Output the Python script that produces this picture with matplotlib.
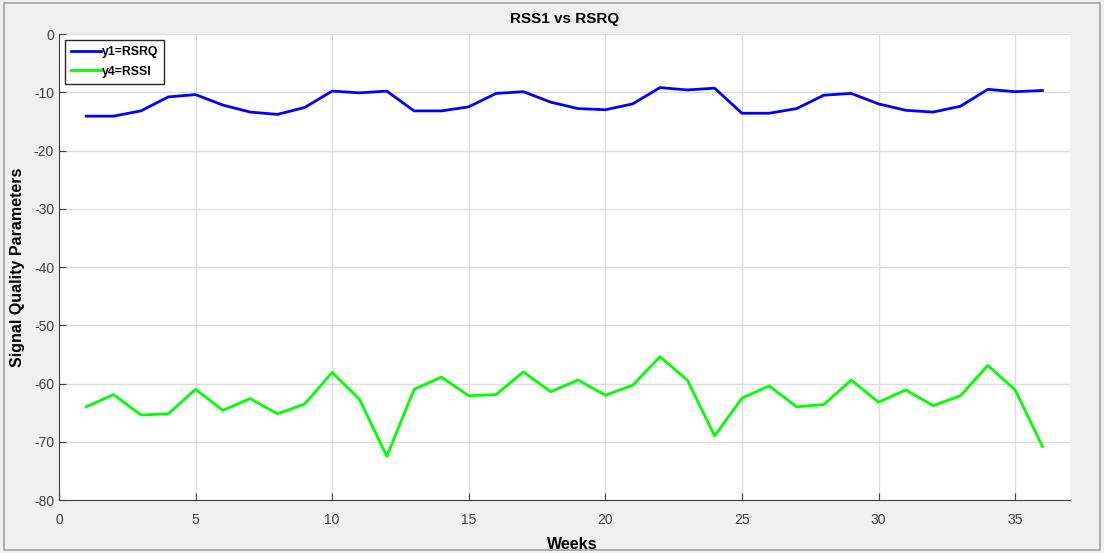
import numpy as np
import matplotlib.pyplot as plt
from matplotlib.patches import Rectangle

weeks = np.arange(1, 37)
rsrq = [-14.1, -14.1, -13.2, -10.8, -10.4, -12.2, -13.4, -13.8, -12.6, -9.8,
        -10.1, -9.8, -13.2, -13.2, -12.5, -10.2, -9.9, -11.7, -12.8, -13.0,
        -12.0, -9.2, -9.6, -9.3, -13.6, -13.6, -12.8, -10.5, -10.2, -12.0,
        -13.1, -13.4, -12.4, -9.5, -9.9, -9.7]
rssi = [-64.0, -61.9, -65.4, -65.2, -61.0, -64.6, -62.6, -65.2, -63.5, -58.1,
        -62.7, -72.5, -61.0, -58.9, -62.1, -61.9, -58.0, -61.4, -59.4, -62.0,
        -60.3, -55.4, -59.4, -69.0, -62.5, -60.4, -64.0, -63.6, -59.4, -63.2,
        -61.1, -63.8, -62.1, -56.9, -61.1, -70.8]

plt.rcParams['font.family'] = ['Liberation Sans', 'DejaVu Sans']
plt.rcParams['axes.unicode_minus'] = False

fig = plt.figure(figsize=(11.04, 5.53), dpi=100, facecolor='#f0f0f0')
fig.patches.append(Rectangle((0.004, 0.006), 0.992, 0.988, transform=fig.transFigure,
                             fill=False, edgecolor='#a0a0a0', lw=1.2))
ax = fig.add_axes([0.0534, 0.0958, 0.9156, 0.8427])

ax.plot(weeks, rsrq, color=(0, 0, 1), lw=2, label="y1=RSRQ")
ax.plot(weeks, rssi, color=(0, 1, 0), lw=2, label="y4=RSSI")

ax.set(xlim=(0, 37), ylim=(-80, 0),
       xticks=np.arange(0, 36, 5), yticks=np.arange(-80, 1, 10))
ax.grid(color='#dcdcdc', lw=1)
ax.set_axisbelow(True)
for s in ['top', 'right']:
    ax.spines[s].set_visible(False)
for s in ['left', 'bottom']:
    ax.spines[s].set_color('#404040')
ax.tick_params(direction='in', length=5, colors='#404040', labelsize=10)
ax.tick_params(axis='x', pad=9)

ax.set_title("RSS1 vs RSRQ", fontsize=11, fontweight='bold', pad=8)
ax.set_xlabel("Weeks", fontsize=11.5, fontweight='bold')
ax.xaxis.set_label_coords(0.508, -0.08)
ax.set_ylabel("Signal Quality Parameters", fontsize=11.5, fontweight='bold')
ax.yaxis.set_label_coords(-0.034, 0.5)

leg = ax.legend(loc='upper left', fancybox=False, framealpha=1,
                edgecolor='#262626', handlelength=2.4, handletextpad=0.1,
                borderaxespad=0.5, borderpad=0.5, labelspacing=0.6,
                prop={'weight': 'bold', 'size': 8.8})
leg.get_frame().set_linewidth(1)

fig.savefig('out.png', dpi=100, facecolor=fig.get_facecolor())
